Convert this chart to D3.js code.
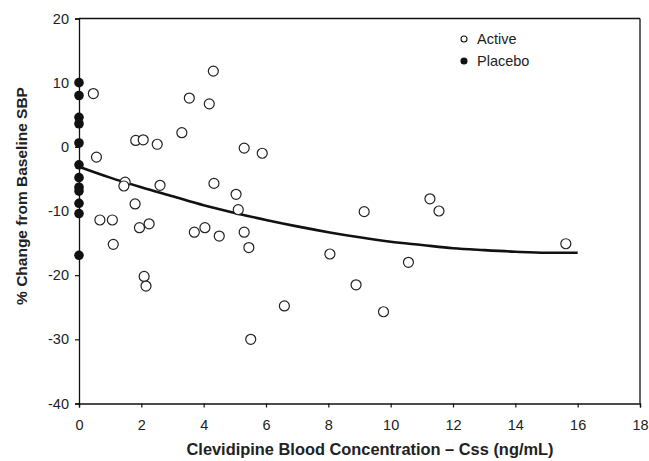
<!DOCTYPE html>
<html><head><meta charset="utf-8">
<script src="https://cdn.jsdelivr.net/npm/d3@7"></script>
<style>body{margin:0;background:#fff}svg{display:block}text{font-family:"Liberation Sans",Arial,sans-serif}</style>
</head><body>
<svg id="c" width="649" height="461"></svg>
<script>
const activeX = [0.46,0.56,1.82,2.06,2.51,3.30,3.54,4.18,4.31,1.48,1.44,2.60,4.33,1.80,0.67,1.07,1.10,1.94,2.25,2.09,2.15,3.70,4.04,4.50,5.30,5.88,5.04,5.11,9.15,11.26,11.55,5.30,5.45,8.05,10.57,8.89,6.59,9.77,5.51,15.62];
const activeY = [8.3,-1.6,1.0,1.1,0.4,2.2,7.6,6.7,11.8,-5.5,-6.1,-6.0,-5.7,-8.9,-11.4,-11.4,-15.2,-12.6,-12.0,-20.2,-21.7,-13.3,-12.6,-13.9,-0.2,-1.0,-7.4,-9.8,-10.1,-8.1,-10.0,-13.3,-15.7,-16.7,-18.0,-21.5,-24.8,-25.7,-30.0,-15.1];
const placeboY = [10.0,8.0,4.6,3.6,0.6,-2.8,-4.8,-6.3,-6.9,-8.8,-10.4,-16.9];
const fitX = [0,1,2,3,4,5,6,7,8,9,10,11,12,13,14,15,16];
const fitY = [-3.1,-4.8,-6.3,-7.7,-9.1,-10.3,-11.4,-12.4,-13.3,-14.1,-14.8,-15.3,-15.8,-16.1,-16.35,-16.5,-16.5];
const xTicks = [0,2,4,6,8,10,12,14,16,18];
const yTicks = [-40,-30,-20,-10,0,10,20];
const legendLabels = ["Active","Placebo"];

const svg = d3.select("#c");
const L=79, R=640, T=18.5, B=403.5;
const x = d3.scaleLinear().domain([0,18]).range([L,R]);
const y = d3.scaleLinear().domain([-40,20]).range([B,T]);

// frame top/right
svg.append("line").attr("x1",L).attr("x2",R).attr("y1",T).attr("y2",T).attr("stroke","#111").attr("stroke-width",1.3);
svg.append("line").attr("x1",R).attr("x2",R).attr("y1",T).attr("y2",B).attr("stroke","#111").attr("stroke-width",1.3);

const fmt = d => String(d);
const xa = svg.append("g").attr("transform",`translate(0,${B})`)
  .call(d3.axisBottom(x).tickValues(xTicks).tickSize(4).tickPadding(12).tickFormat(fmt));
const ya = svg.append("g").attr("transform",`translate(${L},0)`)
  .call(d3.axisLeft(y).tickValues(yTicks).tickSize(4).tickPadding(6).tickFormat(fmt));
[xa,ya].forEach(a=>{
  a.selectAll("path").attr("stroke","#111").attr("stroke-width",1.3);
  a.selectAll("line").attr("stroke","#111").attr("stroke-width",1.2);
  a.selectAll("text").attr("font-size",14.5).attr("fill","#222");
});

// fitted curve
const fit = fitX.map((d,i)=>[d,fitY[i]]);
svg.append("path").datum(fit)
  .attr("d",d3.line().x(d=>x(d[0])).y(d=>y(d[1])).curve(d3.curveMonotoneX))
  .attr("fill","none").attr("stroke","#111").attr("stroke-width",2.6);

// active points
svg.append("g").selectAll("circle").data(activeX.map((d,i)=>[d,activeY[i]])).join("circle")
  .attr("cx",d=>x(d[0])).attr("cy",d=>y(d[1])).attr("r",5)
  .attr("fill","#fff").attr("stroke","#222").attr("stroke-width",1.2);

// placebo points
svg.append("g").selectAll("circle").data(placeboY).join("circle")
  .attr("cx",x(0)).attr("cy",d=>y(d)).attr("r",4.8).attr("fill","#111");

// legend
const lg = svg.append("g");
legendLabels.forEach((t,i)=>{
  const cy = 39 + i*22;
  lg.append("circle").attr("cx",464).attr("cy",cy).attr("r",3)
    .attr("fill", i===0?"#fff":"#111").attr("stroke","#111").attr("stroke-width",1.1);
  lg.append("text").attr("x",477).attr("y",cy).attr("dy","0.35em")
    .attr("font-size",14.5).attr("fill","#222").text(t);
});

// axis titles
svg.append("text").attr("x",370).attr("y",455).attr("text-anchor","middle")
  .attr("font-size",16.4).attr("font-weight","bold").attr("fill","#222")
  .text("Clevidipine Blood Concentration \u2013 Css (ng/mL)");
svg.append("text").attr("transform","translate(27,196) rotate(-90)").attr("text-anchor","middle")
  .attr("font-size",15.5).attr("font-weight","bold").attr("fill","#222")
  .text("% Change from Baseline SBP");
</script>
</body></html>
